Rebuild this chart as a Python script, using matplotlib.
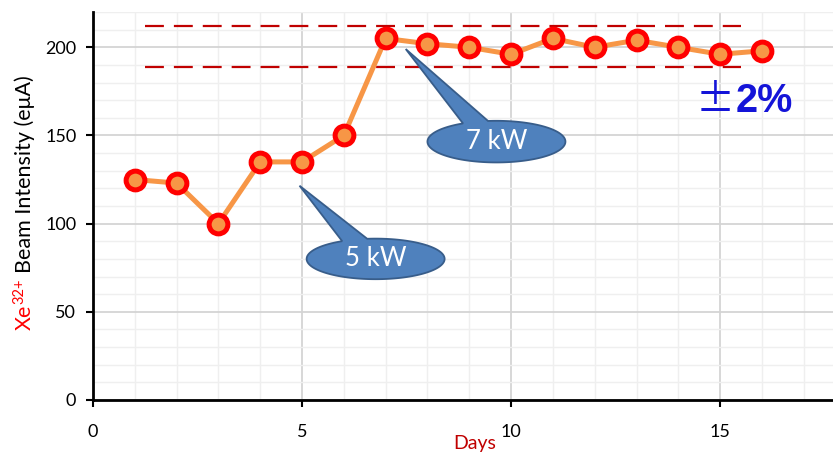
import numpy as np
import matplotlib
matplotlib.use("Agg")
import matplotlib.pyplot as plt
from matplotlib.patches import Polygon
from matplotlib.ticker import MultipleLocator

# Daily Xe32+ beam intensity
days = [1, 2, 3, 4, 5, 6, 7, 8, 9, 10, 11, 12, 13, 14, 15, 16]
intensity = [125, 123, 100, 135, 135, 150, 205, 202, 200, 196, 205, 200, 204, 200, 196, 198]

# Stability band
band_days = [1.25, 15.5]
band_upper = 212
band_lower = 189

x_ticks = [0, 5, 10, 15]
y_ticks = [0, 50, 100, 150, 200]

plt.rcParams['font.family'] = ['Lato', 'DejaVu Sans']

fig = plt.figure(figsize=(8.33, 4.54), dpi=100)
ax = fig.add_axes([93 / 833, 1 - 400 / 454, 1 - 93 / 833, (400 - 12) / 454])

ax.set_xlim(0, 17.7)
ax.set_ylim(0, 220)
ax.set_xticks(x_ticks)
ax.set_yticks(y_ticks)
ax.xaxis.set_minor_locator(MultipleLocator(1))
ax.yaxis.set_minor_locator(MultipleLocator(10))
ax.grid(which='major', color='#D4D4D4', linewidth=1.3, zorder=0)
ax.grid(which='minor', color='#EFEFEF', linewidth=1.0, zorder=0)
ax.set_axisbelow(True)

for s in ('top', 'right'):
    ax.spines[s].set_visible(False)
for s in ('left', 'bottom'):
    ax.spines[s].set_linewidth(2.0)
    ax.spines[s].set_color('black')

ax.tick_params(which='major', direction='out', length=5, width=1.5,
               labelsize=13, colors='black')
ax.tick_params(axis='x', which='major', pad=12)
ax.tick_params(axis='y', which='major', pad=7)
ax.tick_params(which='minor', length=0)

# band limits
for yv in (band_upper, band_lower):
    ax.plot(band_days, [yv, yv], color='#C00000', linewidth=1.6,
            dashes=(8.5, 4.5), zorder=2)

# data series
ax.plot(days, intensity, color='#F79646', linewidth=3.6, marker='o',
        markersize=13.5, markerfacecolor='#F79646', markeredgecolor='#FF0000',
        markeredgewidth=3.6, zorder=4, clip_on=False)


def callout(ax, center, semi, tip, base_deg, text):
    cx, cy = center
    a, b = semi
    t1, t2 = base_deg
    t = np.radians(np.linspace(t1, t2 + 360, 200))
    xs = cx + a * np.cos(t)
    ys = cy + b * np.sin(t)
    pts = np.column_stack([np.append(xs, tip[0]), np.append(ys, tip[1])])
    ax.add_patch(Polygon(pts, closed=True, facecolor='#4F81BD',
                         edgecolor='#385D8A', linewidth=1.3, zorder=5))
    ax.text(cx, cy, text, color='white', fontsize=18.5, ha='center',
            va='center', zorder=6)


callout(ax, (6.76, 80.0), (1.65, 11.5), (4.94, 121.5), (119, 97), '5 kW')
callout(ax, (9.65, 146.5), (1.65, 11.8), (7.48, 199.0), (119, 97), '7 kW')

# ±2% label
fig.text(696 / 833, 1 - 112 / 454, '\u00b1', color='#1414D8', fontsize=28,
         family=['Noto Sans CJK JP', 'DejaVu Sans'], ha='left', va='baseline')
fig.text(736 / 833, 1 - 112 / 454, '2%', color='#1414D8', fontsize=28.5,
         family=['Liberation Sans', 'DejaVu Sans'], weight='bold',
         ha='left', va='baseline')

# x axis title
fig.text(475 / 833, 1 - 443 / 454, 'Days', color='#C00000', fontsize=14,
         ha='center', va='center')

# y axis title: red "Xe" with superscript charge, then black text
fig.canvas.draw()
renderer = fig.canvas.get_renderer()
H = fig.bbox.height
W = fig.bbox.width
base_x = 31
t_xe = fig.text(base_x / W, 1 - 330 / 454, 'Xe', color='#FF0000', fontsize=15.5,
                rotation=90, rotation_mode='anchor', ha='left', va='baseline')
e1 = t_xe.get_window_extent(renderer)
t_sup = fig.text((base_x - 8) / W, (e1.y1 + 1) / H, '32+', color='#FF0000',
                 fontsize=10.5, rotation=90, rotation_mode='anchor',
                 ha='left', va='baseline')
e2 = t_sup.get_window_extent(renderer)
fig.text(base_x / W, (e2.y1 + 5) / H, 'Beam Intensity (e\u03bcA)',
         color='black', fontsize=15.5, rotation=90, rotation_mode='anchor',
         ha='left', va='baseline')

fig.savefig('out.png', dpi=100)
